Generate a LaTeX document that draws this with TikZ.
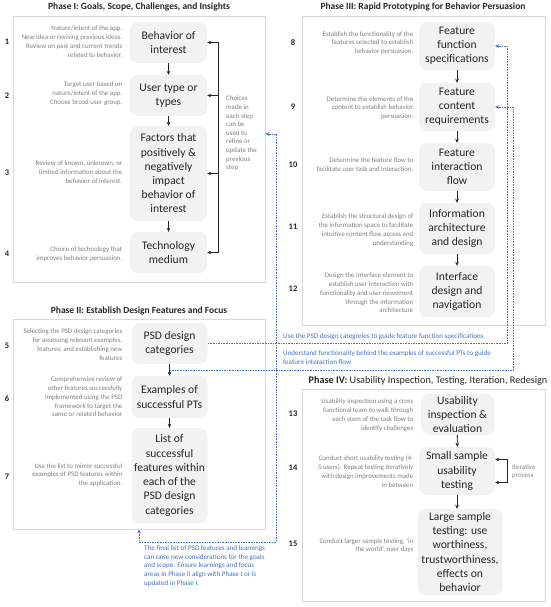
\documentclass[tikz,border=0pt]{standalone}
\usepackage{fontspec}
\setmainfont{Carlito}
\usetikzlibrary{arrows.meta}
\definecolor{boxgray}{HTML}{F2F2F2}
\definecolor{framegray}{HTML}{D9D9D9}
\definecolor{descgray}{HTML}{808080}
\definecolor{linkblue}{HTML}{4472C4}
\definecolor{ink}{HTML}{262626}
\begin{document}
\begin{tikzpicture}[x=1pt,y=-1pt,
  stepbox/.style={fill=boxgray, rounded corners=8pt, align=center, inner sep=0pt, text=ink, font=\fontsize{11.6}{14.2}\selectfont},
  desc/.style={anchor=east, align=right, text=descgray, font=\fontsize{6.9}{8.8}\selectfont, inner sep=0pt},
  num/.style={font=\bfseries\fontsize{8.5}{10}\selectfont, text=ink, inner sep=0pt},
  frame/.style={draw=framegray, line width=0.8pt, fill=white, inner sep=0pt},
  ptitle/.style={font=\bfseries\fontsize{9.5}{11}\selectfont, text=ink, inner sep=0pt},
  arr/.style={-{Stealth[length=4pt,width=3.6pt]}, line width=0.9pt, draw=ink},
  twoarr/.style={{Stealth[length=4pt,width=3.6pt]}-{Stealth[length=4pt,width=3.6pt]}, line width=0.9pt, draw=ink},
  link/.style={draw=linkblue, line width=0.8pt, dash pattern=on 1.6pt off 1pt},
  linktip/.style={link, -{Stealth[length=4pt,width=3.6pt]}},
  linktwo/.style={link, {Stealth[length=4pt,width=3.6pt]}-{Stealth[length=4pt,width=3.6pt]}},
  bluetext/.style={text=linkblue, align=left, anchor=west, font=\fontsize{7.1}{8.9}\selectfont, inner sep=0pt},
  note/.style={text=descgray, align=left, anchor=west, font=\fontsize{6.9}{8.6}\selectfont, inner sep=0pt}
]
\useasboundingbox (0,0) rectangle (550,607);

% frames
\node[frame, minimum width=252pt, minimum height=266pt] (fI) at (139,149) {};
\node[frame, minimum width=243pt, minimum height=309pt] (fIII) at (423.5,170.5) {};
\node[frame, minimum width=252pt, minimum height=210pt] (fII) at (139,424) {};
\node[frame, minimum width=243pt, minimum height=212pt] (fIV) at (424,495) {};

% titles
\node[ptitle] (tI) at (139,7) {Phase I: Goals, Scope, Challenges, and Insights};
\node[ptitle] (tIII) at (423,7) {Phase III: Rapid Prototyping for Behavior Persuasion};
\node[ptitle] (tII) at (139,311) {Phase II: Establish Design Features and Focus};
\node[ptitle, font=\fontsize{10.2}{11}\selectfont] (tIV) at (428,381) {\textbf{Phase IV:} Usability Inspection, Testing, Iteration, Redesign};

% Phase I boxes
\node[stepbox, minimum width=77pt, minimum height=41pt] (b1) at (168.5,42.5) {Behavior of\\interest};
\node[stepbox, minimum width=77pt, minimum height=41pt] (b2) at (168.5,95.5) {User type or\\types};
\node[stepbox, minimum width=77pt, minimum height=95pt] (b3) at (168.5,173.5) {Factors that\\positively \&\\negatively\\impact\\behavior of\\interest};
\node[stepbox, minimum width=77pt, minimum height=41pt] (b4) at (168.5,252.5) {Technology\\medium};

% Phase II boxes
\node[stepbox, minimum width=76pt, minimum height=41pt] (p5) at (169.5,343.5) {PSD design\\categories};
\node[stepbox, minimum width=76pt, minimum height=42pt] (p6) at (169.5,397) {Examples of\\successful PTs};
\node[stepbox, minimum width=76pt, minimum height=95pt] (p7) at (169.5,475.5) {List of\\successful\\features within\\each of the\\PSD design\\categories};

% Phase III boxes
\node[stepbox, minimum width=76pt, minimum height=48pt] (c8) at (457,46) {Feature\\function\\specifications};
\node[stepbox, minimum width=76pt, minimum height=48pt] (c9) at (457,107) {Feature\\content\\requirements};
\node[stepbox, minimum width=76pt, minimum height=48pt] (c10) at (457,167) {Feature\\interaction\\flow};
\node[stepbox, minimum width=76pt, minimum height=51pt] (c11) at (457,228.5) {Information\\architecture\\and design};
\node[stepbox, minimum width=76pt, minimum height=51pt] (c12) at (457,291.5) {Interface\\design and\\navigation};

% Phase IV boxes
\node[stepbox, minimum width=73pt, minimum height=41pt] (c13) at (457.5,414.5) {Usability\\inspection \&\\evaluation};
\node[stepbox, minimum width=76pt, minimum height=48pt] (c14) at (457,471) {Small sample\\usability\\testing};
\node[stepbox, minimum width=84pt, minimum height=86pt] (c15) at (460,552) {Large sample\\testing: use\\worthiness,\\trustworthiness,\\effects on\\behavior};

% numbers
\node[num] (n1) at (7,42) {1};
\node[num] (n2) at (7,96) {2};
\node[num] (n3) at (7,173) {3};
\node[num] (n4) at (7,254) {4};
\node[num] (n5) at (7,346) {5};
\node[num] (n6) at (7,399) {6};
\node[num] (n7) at (7,477) {7};
\node[num] (n8) at (293,43) {8};
\node[num] (n9) at (293,107) {9};
\node[num] (n10) at (293,165) {10};
\node[num] (n11) at (293,227) {11};
\node[num] (n12) at (293,289) {12};
\node[num] (n13) at (293,414) {13};
\node[num] (n14) at (293,468) {14};
\node[num] (n15) at (293,544) {15};

% descriptions
\node[desc] (d1) at (122.5,41.5) {Nature/intent of the app.\\New idea or revising previous ideas.\\Review on past and current trends\\related to behavior.};
\node[desc] (d2) at (122.5,93.5) {Target user based on\\nature/intent of the app.\\Choose broad user group.};
\node[desc] (d3) at (122.5,172) {Review of known, unknown, or\\limited information about the\\behavior of interest.};
\node[desc] (d4) at (122.5,254) {Choice of technology that\\improves behavior persuasion.};
\node[desc] (d5) at (122.5,344.5) {Selecting the PSD design categories\\for assessing relevant examples,\\features, and establishing new\\features};
\node[desc] (d6) at (122.5,397) {Comprehensive review of\\other features successfully\\implemented using the PSD\\framework to target the\\same or related behavior};
\node[desc] (d7) at (122.5,475) {Use the list to mirror successful\\examples of PSD features within\\the application.};
\node[desc] (d8) at (413.5,43) {Establish the functionality of the\\features selected to establish\\behavior persuasion.};
\node[desc] (d9) at (413.5,108) {Determine the elements of the\\content to establish behavior\\persuasion.};
\node[desc] (d10) at (413.5,165) {Determine the feature flow to\\facilitate user task and interaction.};
\node[desc] (d11) at (413.5,230) {Establish the structural design of\\the information space to facilitate\\intuitive content flow access and\\understanding};
\node[desc] (d12) at (413.5,293) {Design the interface element to\\establish user interaction with\\functionality and user movement\\through the information\\architecture};
\node[desc] (d13) at (413.5,415) {Usability inspection using a cross\\functional team to walk through\\each stem of the task flow to\\identify challenges};
\node[desc] (d14) at (413.5,471.5) {Conduct short usability testing (4-\\5 users). Repeat testing iteratively\\with design improvements made\\in between};
\node[desc] (d15) at (413.5,545.5) {Conduct larger sample testing, ‘in\\the world’, over days};

% notes
\node[note] (ch) at (226,133.5) {Choices\\made in\\each step\\can be\\used to\\refine or\\update the\\previous\\step};
\node[note] (itn) at (512,471.5) {Iterative\\process};

% blue texts
\node[bluetext] (bt1) at (283,337) {Use the PSD design categories to guide feature function specifications};
\node[bluetext] (bt2) at (283,357.5) {Understand functionality behind the examples of successful PTs to guide\\feature interaction flow};
\node[bluetext] (bt3) at (144,566) {The final list of PSD features and learnings\\can raise new considerations for the goals\\and scope. Ensure learnings and focus\\areas in Phase II align with Phase I or is\\updated in Phase I.};

% flow arrows
\draw[arr] (b1) -- (b2);
\draw[arr] (b2) -- (b3);
\draw[arr] (b3) -- (b4);
\draw[arr] (p5) -- (p6);
\draw[arr] (p6) -- (p7);
\draw[arr] (c8) -- (c9);
\draw[arr] (c9) -- (c10);
\draw[arr] (c10) -- (c11);
\draw[arr] (c11) -- (c12);
\draw[arr] (c13) -- (c14);
\draw[arr] (c14.south) -- (c14.south |- c15.north);

% Phase I feedback bracket
\coordinate (brx) at (218.5,0);
\draw[twoarr] (b1.east) -- (brx |- b1.east) -- (brx |- b4.east) -- (b4.east);
\draw[arr] (brx |- b2.east) -- (b2.east);
\draw[arr] (brx |- b3.east) -- (b3.east);

% iterative loop
\coordinate (itx) at (507,0);
\coordinate (itu) at ([yshift=11.5pt]c14.east);
\coordinate (itd) at ([yshift=-11.5pt]c14.east);
\draw[twoarr] (itu) -- (itx |- itu) -- (itx |- itd) -- (itd);

% blue dashed links
\coordinate (l1x) at (507,0);
\draw[linktip] (p5.east) -- (l1x |- p5.east) -- (l1x |- c8.east) -- (c8.east);
\path (p5.south) -- (p6.north) coordinate[pos=0.5] (m56);
\coordinate (l2x) at (513,0);
\draw[linktip] (m56) -- (l2x |- m56) -- (l2x |- c9.east) -- (c9.east);
\coordinate (l3a) at (139,542);
\coordinate (l3b) at (276.5,542);
\coordinate (l3c) at (276.5,134);
\draw[linktwo] (l3a |- fII.south) -- (l3a) -- (l3b) -- (l3c) -- (fI.east |- l3c);
\end{tikzpicture}
\end{document}
